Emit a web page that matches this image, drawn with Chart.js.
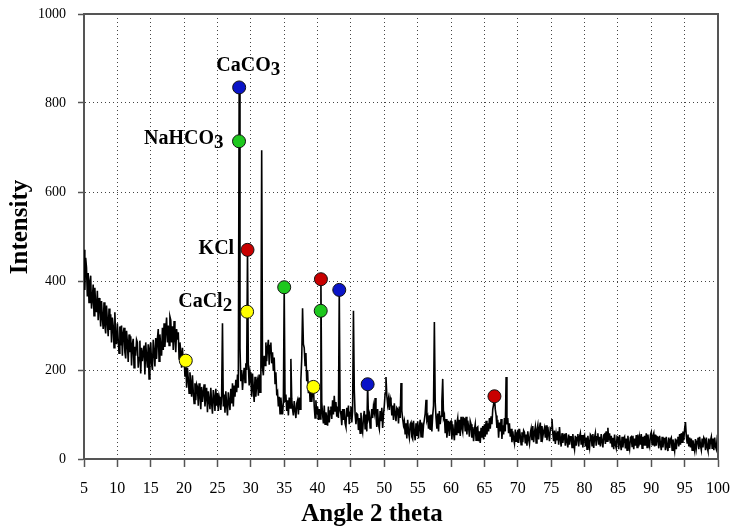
<!DOCTYPE html>
<html>
<head>
<meta charset="utf-8">
<script src="https://cdn.jsdelivr.net/npm/chart.js@4.4.1/dist/chart.umd.min.js"></script>
<style>
  html, body { margin: 0; padding: 0; background: #fff; }
</style>
</head>
<body>
<canvas id="xrd" width="732" height="530"></canvas>
<script>
// diffractogram sampled every 0.125 degrees from 5 to 100 (one row per degree)
const angleStart = 5;
const angleStep = 0.125;
const intensity = [
  470, 380, 452, 430, 365, 418, 352, 398,
  412, 338, 360, 392, 322, 385, 346, 330,
  378, 312, 362, 340, 298, 355, 318, 292,
  352, 300, 282, 345, 310, 276, 338, 290,
  325, 262, 318, 300, 250, 330, 270, 258,
  305, 268, 238, 298, 255, 300, 232, 282,   // 10
  295, 240, 226, 288, 262, 218, 280, 240,
  276, 210, 258, 270, 205, 252, 232, 268,
  262, 205, 228, 266, 192, 250, 220, 240,
  255, 190, 262, 230, 205, 258, 180, 248,
  262, 215, 200, 268, 240, 208, 272, 225,   // 15
  270, 292, 220, 280, 250, 232, 295, 245,
  305, 252, 288, 318, 262, 300, 255, 320,
  312, 262, 298, 245, 310, 272, 240, 292,
  268, 285, 225, 262, 240, 205, 250, 215,
  232, 185, 221, 160, 205, 180, 148, 195,   // 20
  172, 140, 188, 150, 125, 170, 132, 168,
  162, 120, 170, 145, 112, 162, 128, 150,
  168, 118, 140, 160, 105, 152, 132, 112,
  160, 125, 102, 155, 138, 108, 158, 120,
  148, 108, 140, 130, 110, 142, 305, 118,   // 25
  145, 104, 152, 122,  98, 150, 128, 110,
  158, 125, 170, 118, 165, 140, 178, 150,
  190, 160, 835, 250, 175, 200, 155, 185,
  205, 172, 215, 200, 470, 210, 165, 195,
  182, 140, 192, 158, 128, 185, 140, 170,   // 30
  178, 142, 190, 150, 180, 694, 205, 188,
  232, 210, 262, 220, 250, 268, 212, 255,
  262, 215, 240, 198, 228, 170, 195, 148,
  152, 118, 140, 102, 138, 115, 100, 128,
  386, 130, 145, 108, 132,  98, 138, 115,   // 35
  225, 135, 112,  98, 130, 110,  92, 125,
  132, 100, 138, 112, 178, 225, 339, 258,
  250, 210, 238, 175, 200, 148, 172, 130,
  168, 128, 150, 162, 118,  92, 132, 100,
  118,  88, 112,  90, 404, 128, 100,  80,   // 40
  120,  78, 105,  92,  75, 118,  82, 108,
  118,  90, 132, 100, 142, 108, 128,  95,
  118,  92, 380, 108, 100,  76, 112,  88,
  112,  80,  72, 115,  95, 120,  78, 105,
  118,  82, 108, 333, 155, 100,  78, 102,   // 45
  100,  65,  92,  58, 104,  70,  60,  95,
  108,  68, 100,  62, 168,  92, 100,  70,
   88, 112,  92, 118, 105, 137,  98,  72,
  112,  78,  68, 108,  85, 115,  70, 100,
  120, 148, 184, 142, 122, 135, 110, 138,   // 50
  130,  98, 120,  88, 125, 102,  85, 115,
  112,  80, 118,  92, 171, 108,  90,  76,
   85,  55,  80,  46,  88,  60,  48,  78,
   82,  50,  45,  86,  60,  42,  80,  52,
   85,  46,  72,  88,  50,  82,  48,  76,   // 55
   88, 102, 133,  88,  95,  68,  98,  65,
  100,  62,  98, 120, 308, 128,  92,  68,
  102,  62, 108,  78,  96, 130, 180,  92,
   98,  58,  90,  48,  70,  86,  52,  82,
   85,  44,  78,  60,  42,  88,  55,  80,   // 60
   92,  58,  88,  52,  95,  70,  60,  92,
   90,  62,  95,  55,  86,  72,  50,  85,
   78,  48,  72,  40,  66,  78,  42,  70,
   72,  40,  62,  36,  70,  48,  74,  44,
   78,  50,  86,  55,  80,  62,  92,  68,   // 65
   96,  78, 112, 122, 141, 112,  98,  70,
   88,  48,  82,  62,  90,  45,  76,  55,
   92,  62, 184,  78,  92,  58,  80,  50,
   68,  38,  62,  45,  35,  66,  40,  58,
   62,  36,  68,  52,  32,  60,  38,  64,   // 70
   60,  35,  55,  30,  62,  44,  34,  58,
   68,  42,  74,  38,  60,  72,  36,  66,
   76,  44,  70,  82,  40,  74,  50,  62,
   70,  48,  76,  42,  72,  55,  40,  70,
   68,  90,  58,  40,  64,  34,  56,  42,   // 75
   62,  32,  72,  45,  28,  58,  36,  52,
   54,  30,  58,  40,  26,  55,  32,  50,
   50,  26,  56,  34,  22,  52,  30,  48,
   56,  28,  50,  58,  32,  54,  26,  50,
   54,  28,  48,  22,  52,  36,  25,  55,   // 80
   52,  30,  56,  25,  48,  58,  30,  50,
   58,  32,  50,  28,  56,  40,  26,  54,
   56,  34,  62,  40,  70,  42,  58,  35,
   52,  28,  48,  22,  55,  32,  24,  50,
   48,  22,  54,  35,  20,  50,  26,  46,   // 85
   50,  24,  46,  20,  52,  32,  22,  48,
   50,  28,  52,  22,  46,  30,  54,  26,
   55,  28,  48,  32,  56,  24,  50,  30,
   52,  30,  58,  26,  55,  36,  28,  54,
   60,  32,  52,  58,  28,  55,  30,  50,   // 90
   48,  24,  52,  34,  20,  50,  26,  46,
   46,  20,  50,  28,  18,  48,  25,  44,
   48,  20,  44,  30,  18,  46,  22,  42,
   50,  28,  56,  32,  58,  38,  62,  42,
   68,  83,  52,  36,  55,  28,  48,  26,   // 95
   46,  20,  42,  28,  18,  45,  24,  40,
   48,  22,  50,  30,  20,  46,  26,  48,
   44,  20,  48,  26,  18,  46,  22,  42,
   50,  24,  46,  20,  48,  28,  22,  46,
   40                                       // 100
];

// identified phases and the peaks tagged for each
const caco3Angles = [28.25, 43.25, 47.5];
const caco3Counts = [835, 380, 168];
const nahco3Angles = [28.23, 35.0, 40.47];
const nahco3Counts = [714, 386, 333];
const kclAngles = [29.5, 40.5, 66.5];
const kclCounts = [470, 404, 141];
const cacl2Angles = [20.25, 29.44, 39.375];
const cacl2Counts = [221, 331, 162];

// phase labels: main text, subscript, right edge angle, baseline intensity
const labelMain = ['CaCO', 'NaHCO', 'KCl', 'CaCl'];
const labelSub = ['3', '3', '', '2'];
const labelAngles = [34.4, 25.9, 27.5, 27.2];
const labelCounts = [873, 708, 461, 342];

const xTicksMin = 5, xTicksMax = 100, xTickStep = 5;
const yTicksMin = 0, yTicksMax = 1000, yTickStep = 200;

const serif = '"Liberation Serif", "Times New Roman", serif';

const pattern = intensity.map((v, i) => ({ x: angleStart + i * angleStep, y: v }));

function phaseSet(angles, counts, color) {
  return {
    type: 'scatter',
    data: angles.map((a, i) => ({ x: a, y: counts[i] })),
    pointRadius: 6.5,
    pointHoverRadius: 6.5,
    pointBackgroundColor: color,
    pointBorderColor: '#111',
    pointBorderWidth: 1,
    showLine: false,
    order: 0
  };
}

const frameAndText = {
  id: 'frameAndText',
  afterDatasetsDraw(chart) {
    const { ctx, chartArea, scales } = chart;
    ctx.save();
    // top and right frame
    ctx.strokeStyle = '#555';
    ctx.lineWidth = 2;
    ctx.beginPath();
    ctx.moveTo(chartArea.left, chartArea.top);
    ctx.lineTo(chartArea.right, chartArea.top);
    ctx.lineTo(chartArea.right, chartArea.bottom);
    ctx.stroke();

    // phase labels with subscripts
    ctx.fillStyle = '#000';
    ctx.textBaseline = 'alphabetic';
    ctx.textAlign = 'left';
    for (let i = 0; i < labelMain.length; i++) {
      const xr = scales.x.getPixelForValue(labelAngles[i]);
      const yb = scales.y.getPixelForValue(labelCounts[i]);
      ctx.font = 'bold 19px ' + serif;
      const subW = labelSub[i] ? ctx.measureText(labelSub[i]).width : 0;
      ctx.font = 'bold 20px ' + serif;
      const mainW = ctx.measureText(labelMain[i]).width;
      ctx.fillText(labelMain[i], xr - subW - mainW, yb);
      if (labelSub[i]) {
        ctx.font = 'bold 19px ' + serif;
        ctx.fillText(labelSub[i], xr - subW, yb + 4);
      }
    }

    // axis titles
    ctx.font = 'bold 25px ' + serif;
    ctx.textAlign = 'center';
    ctx.textBaseline = 'middle';
    ctx.fillText('Angle 2 theta', 372, 515);
    ctx.translate(21, 227);
    ctx.rotate(-Math.PI / 2);
    ctx.fillText('Intensity', 0, 0);
    ctx.restore();
  }
};

new Chart(document.getElementById('xrd'), {
  type: 'line',
  data: {
    datasets: [
      {
        data: pattern,
        borderColor: '#000',
        borderWidth: 1.6,
        pointRadius: 0,
        tension: 0,
        order: 1
      },
      phaseSet(caco3Angles, caco3Counts, '#0a14c8'),
      phaseSet(nahco3Angles, nahco3Counts, '#1ec81e'),
      phaseSet(kclAngles, kclCounts, '#c80000'),
      phaseSet(cacl2Angles, cacl2Counts, '#ffff00')
    ]
  },
  options: {
    responsive: false,
    animation: false,
    devicePixelRatio: 1,
    layout: { padding: { top: 14, right: 14, left: 0, bottom: 0 } },
    plugins: {
      legend: { display: false },
      tooltip: { enabled: false }
    },
    scales: {
      x: {
        type: 'linear',
        min: xTicksMin,
        max: xTicksMax,
        afterFit(s) {
          s.height = 71;
          s.paddingLeft = 0;
          s.paddingRight = 0;
        },
        ticks: {
          stepSize: xTickStep,
          padding: 12,
          color: '#000',
          font: { family: serif, size: 16 }
        },
        grid: {
          color: '#444',
          lineWidth: 1,
          tickLength: 8,
          tickColor: '#555',
          tickWidth: 1.5
        },
        border: { color: '#555', width: 2, dash: [1, 3] }
      },
      y: {
        min: yTicksMin,
        max: yTicksMax,
        afterFit(s) {
          s.width = 84;
          s.paddingTop = 0;
          s.paddingBottom = 0;
        },
        ticks: {
          stepSize: yTickStep,
          padding: 12,
          color: '#000',
          font: { family: serif, size: 14 },
          callback: (v) => String(v)
        },
        grid: {
          color: '#444',
          lineWidth: 1,
          tickLength: 6,
          tickColor: '#555',
          tickWidth: 1.5
        },
        border: { color: '#555', width: 2, dash: [1, 3] }
      }
    }
  },
  plugins: [frameAndText]
});
</script>
</body>
</html>
